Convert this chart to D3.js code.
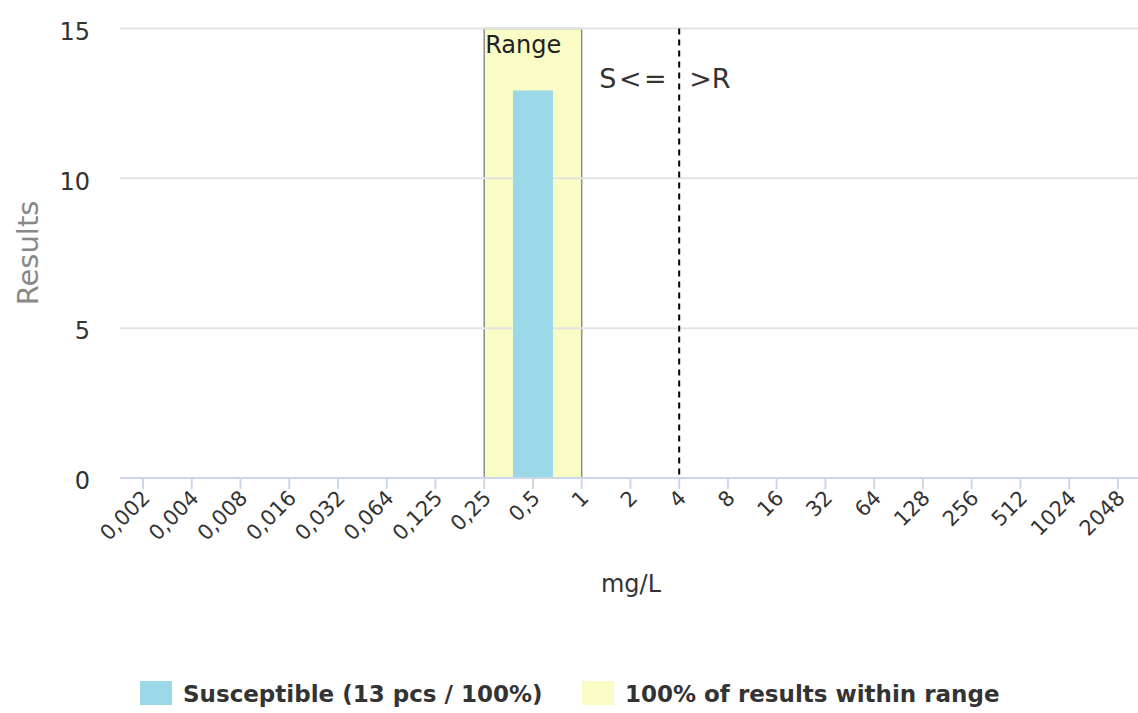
<!DOCTYPE html>
<html>
<head>
<meta charset="utf-8">
<script src="https://cdn.jsdelivr.net/npm/d3@7"></script>
<style>
html,body{margin:0;padding:0;background:#fff;}
svg{display:block;font-family:"DejaVu Sans",sans-serif;}
</style>
</head>
<body>
<svg id="chart" width="1138" height="713"></svg>
<script>
const categories = ["0,002","0,004","0,008","0,016","0,032","0,064","0,125","0,25","0,5","1","2","4","8","16","32","64","128","256","512","1024","2048"];
const susceptible = [0,0,0,0,0,0,0,0,13,0,0,0,0,0,0,0,0,0,0,0,0];
const yTicks = [0,5,10,15];
const rangeFrom = "0,25";
const rangeTo = "1";
const breakpoint = "4";
const legendLabels = ["Susceptible (13 pcs / 100%)","100% of results within range"];

const svg = d3.select("#chart");
const x = d3.scaleBand().domain(categories).range([118.6,1142.3]).padding(0);
const cx = c => x(c) + x.bandwidth()/2;
const y = d3.scaleLinear().domain([0,15]).range([478,28.5]);
const plotLeft = 120, plotRight = 1138;

// range band
svg.append("rect")
  .attr("x", cx(rangeFrom)).attr("y", y(15))
  .attr("width", cx(rangeTo)-cx(rangeFrom)).attr("height", y(0)-y(15))
  .attr("fill","#fafcc6").attr("stroke","#8c8c8c").attr("stroke-width",1.5);

// gridlines
svg.append("g").selectAll("line").data(yTicks.filter(t=>t>0)).join("line")
  .attr("x1",plotLeft).attr("x2",plotRight)
  .attr("y1",d=>y(d)).attr("y2",d=>y(d))
  .attr("stroke","#e3e3e3").attr("stroke-width",2);

// bars
const bw = x.bandwidth()*0.82;
svg.append("g").selectAll("rect").data(categories.map((c,i)=>({c,v:susceptible[i]})).filter(d=>d.v>0)).join("rect")
  .attr("x",d=>cx(d.c)-bw/2).attr("width",bw)
  .attr("y",d=>y(d.v)+2).attr("height",d=>y(0)-y(d.v)-2)
  .attr("fill","#9ad8e8");

// breakpoint dashed line
svg.append("line")
  .attr("x1",cx(breakpoint)).attr("x2",cx(breakpoint))
  .attr("y1",y(15)).attr("y2",y(0))
  .attr("stroke","#000").attr("stroke-width",2).attr("stroke-dasharray","6,5");

// range label
svg.append("text").attr("x",cx(rangeFrom)+1).attr("y",53)
  .attr("font-size",24).attr("fill","#222").text("Range");

// S<= / >R labels
svg.append("text").attr("x",cx(breakpoint)-10).attr("y",88)
  .attr("text-anchor","end").attr("font-size",27).attr("letter-spacing",2.5).attr("fill","#333").text("S<=");
svg.append("text").attr("x",cx(breakpoint)+10).attr("y",88)
  .attr("font-size",27).attr("fill","#333").text(">R");

// x axis
const xAxis = d3.axisBottom(x).tickSize(11).tickSizeOuter(0);
const gx = svg.append("g").attr("transform",`translate(0,${y(0)})`).call(xAxis);
gx.attr("font-family","DejaVu Sans");
gx.select(".domain").attr("d",`M${plotLeft},0H${plotRight}`).attr("stroke","#ccd6eb").attr("stroke-width",2);
gx.selectAll(".tick line").attr("stroke","#ccd6eb").attr("stroke-width",2);
gx.selectAll(".tick text")
  .attr("font-size",21).attr("fill","#333")
  .attr("text-anchor","end")
  .attr("transform","translate(3,16) rotate(-45)")
  .attr("x",0).attr("y",0).attr("dy","0.35em");

// y axis labels
const yAxis = d3.axisLeft(y).tickValues(yTicks).tickSize(0).tickPadding(0);
const gy = svg.append("g").attr("transform",`translate(90,3)`).call(yAxis);
gy.attr("font-family","DejaVu Sans");
gy.select(".domain").remove();
gy.selectAll(".tick text").attr("font-size",24).attr("fill","#333");

// axis titles
svg.append("text").attr("transform","translate(38,253) rotate(-90)")
  .attr("text-anchor","middle").attr("font-size",29).attr("fill","#888").text("Results");
svg.append("text").attr("x",631).attr("y",592).attr("text-anchor","middle")
  .attr("font-size",24).attr("fill","#333").text("mg/L");

// legend
const legend = [{label:legendLabels[0],color:"#9ad8e8",x:140},{label:legendLabels[1],color:"#fafcc6",x:582}];
const lg = svg.append("g").selectAll("g").data(legend).join("g").attr("transform",d=>`translate(${d.x},681)`);
lg.append("rect").attr("width",32).attr("height",24).attr("fill",d=>d.color);
lg.append("text").attr("x",43).attr("y",21).attr("font-size",23).attr("font-weight","bold")
  .attr("fill","#333").text(d=>d.label);
</script>
</body>
</html>
